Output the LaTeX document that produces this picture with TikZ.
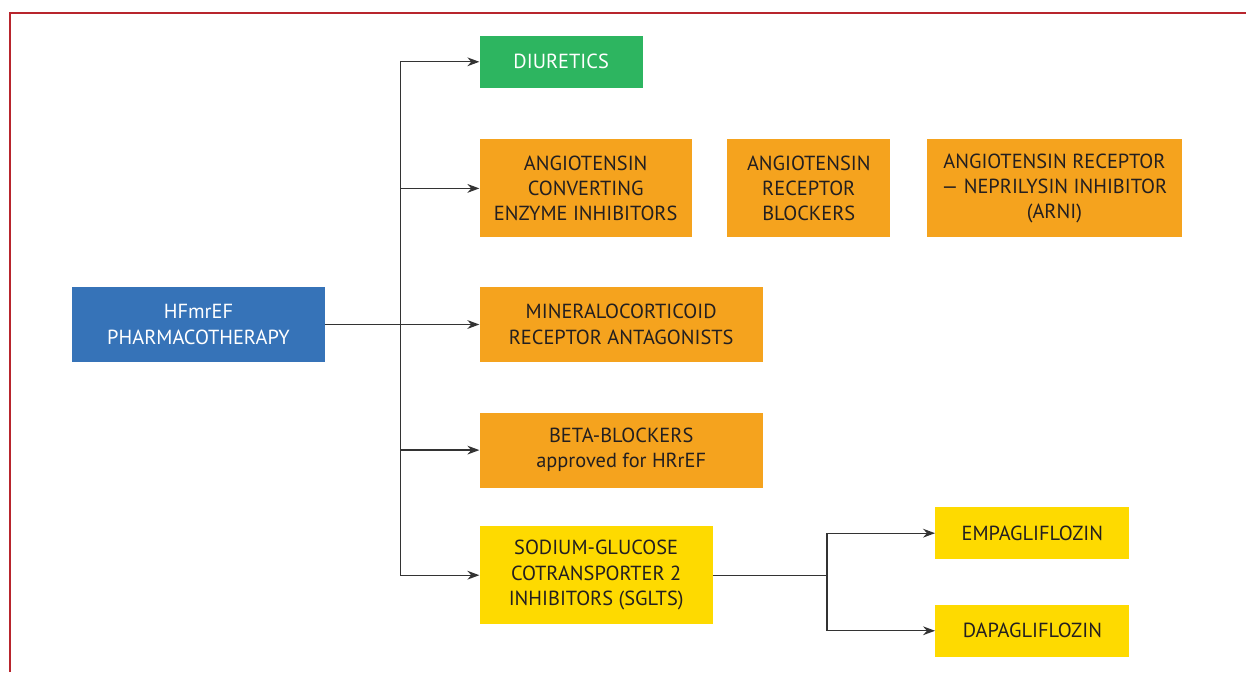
\documentclass[tikz,border=0pt]{standalone}
\usepackage{fontspec}
\setmainfont{PT Sans}
\usetikzlibrary{arrows.meta, positioning}
\definecolor{frameRed}{HTML}{B8252D}
\definecolor{hfBlue}{HTML}{3673B8}
\definecolor{diurGreen}{HTML}{2DB560}
\definecolor{drugOrange}{HTML}{F5A31E}
\definecolor{sgltYellow}{HTML}{FEDA00}
\definecolor{txtDark}{HTML}{231F20}
\definecolor{lineGray}{HTML}{333333}

\begin{document}
\begin{tikzpicture}[
  x=0.025cm, y=-0.025cm,
  box/.style={rectangle, inner sep=2pt, align=center, text=txtDark,
    font=\fontsize{14.5}{18}\selectfont},
  mainbox/.style={box, fill=hfBlue, text=white, minimum width=6.325cm, minimum height=1.875cm},
  greenbox/.style={box, fill=diurGreen, text=white, minimum width=4.075cm, minimum height=1.3cm},
  orangebox/.style={box, fill=drugOrange, minimum height=2.45cm},
  widebox/.style={box, fill=drugOrange, minimum width=7.075cm, minimum height=1.875cm},
  yellowbox/.style={box, fill=sgltYellow, minimum width=4.85cm, minimum height=1.3cm},
  link/.style={line width=0.9pt, draw=lineGray},
  arrow/.style={link, -{Stealth[length=3mm, width=2.2mm]}}
]

\useasboundingbox (0,0) rectangle (1246,672);
\draw [frameRed, line width=1.4pt] (10,672) -- (10,13) -- (1246,13);

\node (hf) [mainbox] at (198.5,324.5) {HFmrEF\\PHARMACOTHERAPY};
\node (mra) [widebox, right=3.85cm of hf] {MINERALOCORTICOID\\RECEPTOR ANTAGONISTS};
\node (beta) [widebox, below=1.25cm of mra] {BETA-BLOCKERS\\approved for HRrEF};
\node (sglt) [yellowbox, minimum width=5.825cm, minimum height=2.45cm,
  below=0.95cm of beta.south west, anchor=north west] {SODIUM-GLUCOSE\\COTRANSPORTER 2\\INHIBITORS (SGLTS)};
\node (ace) [orangebox, minimum width=5.3cm, above=1.225cm of mra.north west, anchor=south west]
  {ANGIOTENSIN\\CONVERTING\\ENZYME INHIBITORS};
\node (diur) [greenbox, above=1.275cm of ace.north west, anchor=south west] {DIURETICS};
\node (arb) [orangebox, minimum width=4.075cm, right=0.875cm of ace] {ANGIOTENSIN\\RECEPTOR\\BLOCKERS};
\node (arni) [orangebox, minimum width=6.375cm, right=0.9cm of arb]
  {ANGIOTENSIN RECEPTOR\\— NEPRILYSIN INHIBITOR\\(ARNI)};
\node (empa) [yellowbox, right=5.55cm of sglt, yshift=1.05cm] {EMPAGLIFLOZIN};
\node (dapa) [yellowbox, below=1.125cm of empa] {DAPAGLIFLOZIN};

% main trunk
\coordinate [right=1.875cm of hf.east] (trunk);
\draw [link] (trunk |- diur) -- (trunk |- sglt);
\draw [arrow] (hf) -- (mra);
\foreach \n in {diur, ace, beta, sglt}
  \draw [arrow] (trunk |- \n) -- (\n);

% sglt split
\coordinate [right=2.85cm of sglt.east] (split);
\draw [link] (sglt) -- (split);
\draw [link] (split |- empa) -- (split |- dapa);
\draw [arrow] (split |- empa) -- (empa);
\draw [arrow] (split |- dapa) -- (dapa);

\end{tikzpicture}
\end{document}
